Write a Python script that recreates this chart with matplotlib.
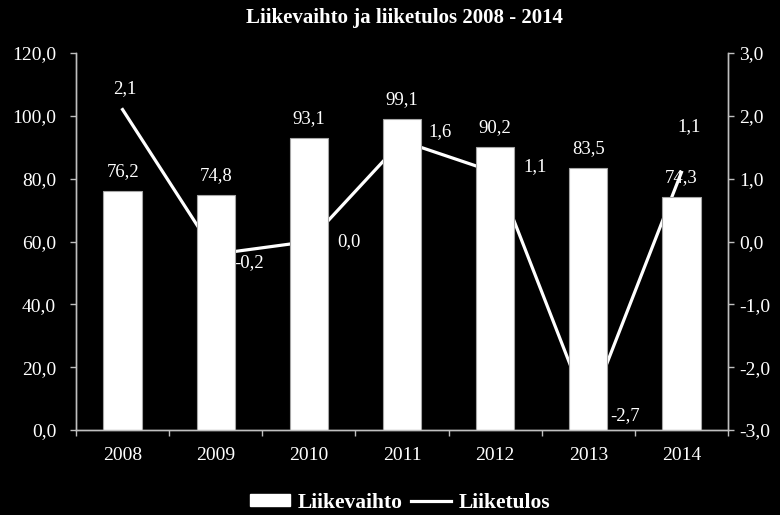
import numpy as np
import matplotlib as mpl
mpl.use('Agg')
from matplotlib import pyplot as plt
from matplotlib.lines import Line2D
from matplotlib.patches import Patch

plt.rcParams['font.family'] = ['Liberation Serif', 'DejaVu Serif']

years = ['2008', '2009', '2010', '2011', '2012', '2013', '2014']
liikevaihto = [76.2, 74.8, 93.1, 99.1, 90.2, 83.5, 74.3]
liiketulos = [2.1, -0.2, 0.0, 1.6, 1.1, -2.7, 1.1]

def fmt(v):
    return ('%.1f' % v).replace('.', ',')

# where the line value labels sit (pixel offsets from the point, alignment)
line_lbl = [(2, 16, 'center'), (19, -13, 'left'), (28, -4.5, 'left'), (26, 5, 'left'),
            (28, 1.6, 'left'), (22, -9, 'left'), (8, 41, 'center')]

fig = plt.figure(figsize=(7.8, 5.15), dpi=100, facecolor='black')
ax = fig.add_axes([76/780, 1-430/515, (728-76)/780, (430-53)/515])
ax2 = ax.twinx()
ax.set_zorder(2)
ax.patch.set_visible(False)
ax2.set_facecolor('black')

x = np.arange(len(years))
ax.bar(x, liikevaihto, width=0.41, color='white', edgecolor='#a6a6a6', linewidth=0.8)
for xi, v in zip(x, liikevaihto):
    ax.annotate(fmt(v), (xi, v), xytext=(0, 14.5), textcoords='offset pixels',
                ha='center', va='baseline', color='white', fontsize=13.5)

ax2.plot(x, liiketulos, color='white', linewidth=2.3, solid_joinstyle='miter')
for xi, v, (dx, dy, ha) in zip(x, liiketulos, line_lbl):
    ax2.annotate(fmt(v), (xi, v), xytext=(dx, dy), textcoords='offset pixels',
                 ha=ha, va='baseline', color='white', fontsize=13.5)

ax.set_xlim(-0.5, len(years) - 0.5)
ax.set_ylim(0, 120)
ax.set_yticks(np.arange(0, 121, 20))
ax.set_yticklabels([fmt(v) for v in np.arange(0, 121, 20)])
ax2.set_ylim(-3, 3)
ax2.set_yticks(np.arange(-3, 3.1, 1))
ax2.set_yticklabels([fmt(v) for v in np.arange(-3, 3.1, 1)])

ax.set_xticks(x)
ax.set_xticklabels(years)
ax.set_xticks(np.arange(-0.5, len(years), 1), minor=True)
ax.tick_params(axis='x', which='major', length=0, pad=12, colors='white', labelsize=14)
ax.tick_params(axis='x', which='minor', length=4.3, direction='out', color='#bfbfbf', width=1)
ax.tick_params(axis='y', length=4.3, pad=10, direction='out', color='#bfbfbf',
               labelcolor='white', labelsize=14, width=1)
ax2.tick_params(axis='y', length=4.3, pad=3.5, direction='out', color='#bfbfbf',
                labelcolor='white', labelsize=14, width=1)

for a in (ax, ax2):
    a.spines['top'].set_visible(False)
    for s in ('left', 'right', 'bottom'):
        a.spines[s].set_color('#bfbfbf')
        a.spines[s].set_linewidth(1)

fig.text(0.519, 1 - 18/515, 'Liikevaihto ja liiketulos 2008 - 2014', ha='center', va='center',
         color='white', fontsize=15, fontweight='bold')

handles = [Patch(facecolor='white', edgecolor='white'),
           Line2D([0], [0], color='white', linewidth=2.3)]
leg = fig.legend(handles, ['Liikevaihto', 'Liiketulos'], loc='center',
                 bbox_to_anchor=(0.513, 1 - 503/515), ncol=2, frameon=False,
                 handlelength=1.86, handleheight=0.5, columnspacing=0.42, handletextpad=0.33,
                 borderpad=0, prop={'weight': 'bold', 'size': 15.5})
for t in leg.get_texts():
    t.set_color('white')

plt.savefig('out.png', facecolor='black')
